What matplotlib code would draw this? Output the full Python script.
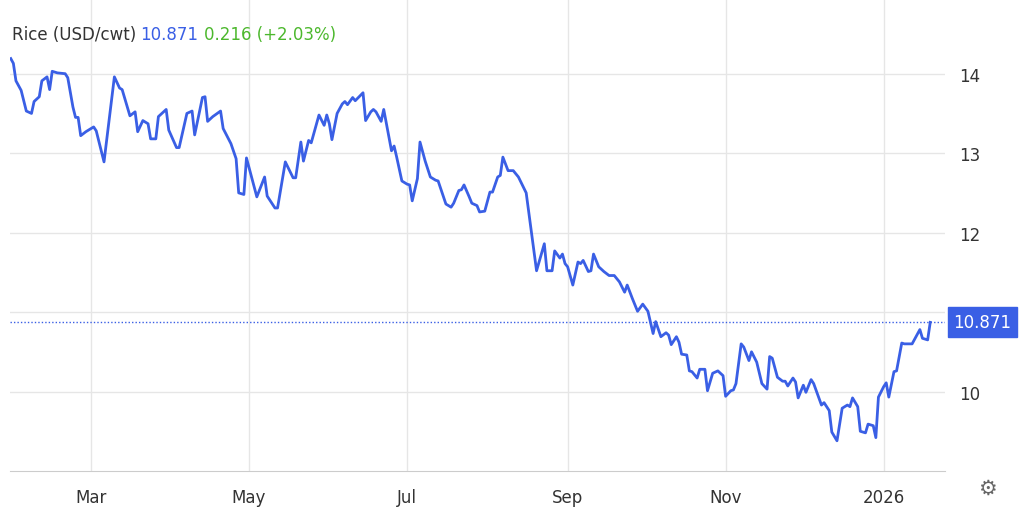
import matplotlib
matplotlib.use("Agg")
import matplotlib.pyplot as plt
import matplotlib.dates as mdates
import pandas as pd
import numpy as np

day_of_2025 = [28,29,30,32,34,36,37,39,40,42,43,44,46,49,50,52,53,54,55,57,60,61,64,68,70,71,74,76,77,79,81,82,84,85,88,89,92,93,96,98,99,102,103,104,106,109,110,113,115,116,118,119,123,126,127,130,131,134,137,138,140,141,143,144,147,149,150,151,152,154,156,157,158,160,161,164,165,167,168,169,171,172,175,176,177,179,181,182,183,185,186,188,190,192,193,196,198,199,201,202,203,205,206,208,209,211,213,214,216,217,218,220,222,224,227,230,231,234,235,237,238,240,241,242,243,245,247,248,249,251,252,253,255,257,259,261,263,265,266,268,270,272,274,276,277,279,281,282,283,285,286,287,289,290,291,293,294,296,297,299,301,303,304,306,307,308,310,311,313,314,316,318,320,321,322,324,326,327,328,330,331,332,334,335,337,338,341,342,344,345,347,349,351,352,353,355,356,358,359,361,362,363,365,366,367,369,370,372,373,376,379,380,382,383]
price = [14.19,14.13,13.91,13.79,13.53,13.50,13.65,13.71,13.91,13.96,13.80,14.03,14.01,14.00,13.95,13.58,13.45,13.45,13.22,13.27,13.33,13.28,12.89,13.96,13.82,13.80,13.47,13.52,13.27,13.41,13.37,13.18,13.18,13.46,13.55,13.29,13.07,13.07,13.50,13.53,13.23,13.70,13.71,13.40,13.46,13.53,13.31,13.12,12.93,12.50,12.48,12.94,12.45,12.70,12.46,12.31,12.31,12.89,12.69,12.69,13.14,12.90,13.16,13.13,13.48,13.35,13.48,13.37,13.17,13.50,13.62,13.65,13.61,13.70,13.66,13.76,13.41,13.52,13.55,13.52,13.40,13.55,13.03,13.09,12.95,12.65,12.61,12.60,12.40,12.68,13.14,12.90,12.70,12.66,12.65,12.36,12.32,12.37,12.53,12.54,12.60,12.45,12.37,12.34,12.26,12.27,12.51,12.51,12.70,12.72,12.95,12.78,12.78,12.70,12.50,11.77,11.52,11.86,11.52,11.52,11.77,11.68,11.73,11.61,11.57,11.34,11.63,11.61,11.65,11.51,11.52,11.73,11.57,11.51,11.46,11.46,11.38,11.25,11.34,11.17,11.01,11.10,11.01,10.73,10.88,10.69,10.74,10.71,10.59,10.69,10.62,10.47,10.46,10.26,10.25,10.17,10.28,10.28,10.01,10.23,10.26,10.20,9.94,10.01,10.02,10.10,10.60,10.56,10.39,10.50,10.37,10.10,10.03,10.44,10.42,10.18,10.13,10.13,10.07,10.17,10.12,9.92,10.08,9.99,10.15,10.10,9.83,9.86,9.76,9.49,9.38,9.79,9.83,9.81,9.92,9.81,9.50,9.48,9.59,9.57,9.42,9.93,10.06,10.11,9.93,10.25,10.26,10.61,10.60,10.60,10.78,10.67,10.65,10.871]
yticks = [10, 11, 12, 13, 14]
month_ticks = ["2025-03-01","2025-05-01","2025-07-01","2025-09-01","2025-11-01","2026-01-01"]
month_labels = ["Mar","May","Jul","Sep","Nov","2026"]
last_value = 10.871
change_text = "0.216 (+2.03%)"

blue = "#3a5fe5"
dates = pd.Timestamp("2025-01-01") + pd.to_timedelta(day_of_2025, unit="D")

fig = plt.figure(figsize=(10.24, 5.10), dpi=100)
ax = fig.add_axes([10/1024, 38/510, 935/1024, 472/510])
ax.plot(dates, price, color=blue, lw=2.0, solid_joinstyle="round")
ax.set_ylim(9.0, 14.94)
x0 = pd.Timestamp("2025-01-01") + pd.Timedelta(days=27.7)
x1 = pd.Timestamp("2025-01-01") + pd.Timedelta(days=388.7)
ax.set_xlim(x0, x1)
ax.axhline(last_value, color=blue, lw=1, ls=(0, (1, 1.5)))

ax.set_yticks(yticks)
ax.yaxis.tick_right()
ax.set_yticklabels([str(t) for t in yticks], fontsize=12, color="#333333")
ax.set_xticks(pd.to_datetime(month_ticks))
ax.set_xticklabels(month_labels, fontsize=12, color="#333333")
ax.tick_params(length=0, pad=10)
ax.tick_params(axis="x", pad=12)
ax.grid(True, color="#e6e6e6", lw=1)
for s in ["top", "right", "left"]:
    ax.spines[s].set_visible(False)
ax.spines["bottom"].set_color("#cccccc")

ax.annotate(f"{last_value:.3f}", xy=(1.0, last_value), xycoords=("axes fraction", "data"),
            xytext=(6, 0), textcoords="offset points", va="center", ha="left",
            fontsize=12, color="white",
            bbox=dict(boxstyle="square,pad=0.35", fc=blue, ec=blue))

fig.text(12/1024, 1 - 35/510, "Rice (USD/cwt)", fontsize=12, color="#333333", va="center")
fig.text(140/1024, 1 - 35/510, f"{last_value:.3f}", fontsize=12, color=blue, va="center")
fig.text(204/1024, 1 - 35/510, change_text, fontsize=12, color="#4cb82d", va="center")
fig.text(987/1024, 1 - 489/510, "\u2699", fontsize=15, color="#666666", ha="center", va="center")

fig.savefig("out.png", dpi=100)
